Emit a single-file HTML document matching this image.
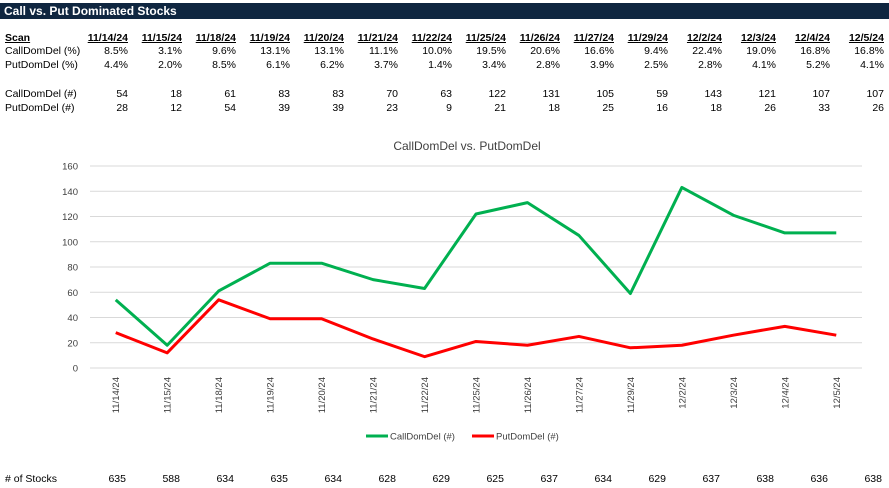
<!DOCTYPE html>
<html><head><meta charset="utf-8"><style>
body{margin:0;width:889px;height:488px;background:#fff;font-family:"Liberation Sans",sans-serif;font-size:10.5px;color:#000;position:relative;overflow:hidden}
.t{position:absolute;white-space:nowrap}
.r{text-align:right;width:60px}
#title{position:absolute;left:0;top:3px;width:889px;height:16px;background:#0f2640;color:#fff;font-weight:bold;font-size:12px;line-height:16px;padding-left:4px;box-sizing:border-box}
</style></head><body>
<div id="title">Call vs. Put Dominated Stocks</div>
<div id="tbl"></div>
<svg id="chart" width="889" height="488" style="position:absolute;left:0;top:0"></svg>
<script>
const dates=["11/14/24","11/15/24","11/18/24","11/19/24","11/20/24","11/21/24","11/22/24","11/25/24","11/26/24","11/27/24","11/29/24","12/2/24","12/3/24","12/4/24","12/5/24"];
const callPct=["8.5%","3.1%","9.6%","13.1%","13.1%","11.1%","10.0%","19.5%","20.6%","16.6%","9.4%","22.4%","19.0%","16.8%","16.8%"];
const putPct=["4.4%","2.0%","8.5%","6.1%","6.2%","3.7%","1.4%","3.4%","2.8%","3.9%","2.5%","2.8%","4.1%","5.2%","4.1%"];
const callNum=[54,18,61,83,83,70,63,122,131,105,59,143,121,107,107];
const putNum=[28,12,54,39,39,23,9,21,18,25,16,18,26,33,26];
const stocks=[635,588,634,635,634,628,629,625,637,634,629,637,638,636,638];
const yTicks=[0,20,40,60,80,100,120,140,160];

const tbl=document.getElementById('tbl');
function cell(txt,x,y,cls,name,extra){const d=document.createElement('div');d.className='t '+cls;d.style.left=x+'px';d.style.top=y+'px';if(extra)d.style.cssText+=extra;d.textContent=txt;


tbl.appendChild(d);}
const colR=i=>128+i*54;
cell('Scan',5,32,'','scan-header','font-weight:bold;text-decoration:underline');
cell('CallDomDel (%)',5,45,'','row-label-call-pct');
cell('PutDomDel (%)',5,59,'','row-label-put-pct');
cell('CallDomDel (#)',5,88,'','row-label-call-num');
cell('PutDomDel (#)',5,102,'','row-label-put-num');
cell('# of Stocks',5,473,'','row-label-stocks');
dates.forEach((d,i)=>{const x=colR(i)-60;
cell(d,x,32,'r','date-header','font-weight:bold;text-decoration:underline');
cell(callPct[i],x,45,'r','call-pct-value');
cell(putPct[i],x,59,'r','put-pct-value');
cell(callNum[i],x,88,'r','call-num-value');
cell(putNum[i],x,102,'r','put-num-value');
cell(stocks[i],x-2,473,'r','stocks-value');
});

const svg=document.getElementById('chart');const NS='http://www.w3.org/2000/svg';
function el(tag,attrs,name){const e=document.createElementNS(NS,tag);for(const k in attrs)e.setAttribute(k,attrs[k]);


svg.appendChild(e);return e;}
const x0=90,x1=862,yBase=368,yTop=166;
const xs=i=>x0+(x1-x0)/dates.length*(i+0.5);
const ys=v=>yBase-(v/160)*(yBase-yTop);
yTicks.forEach(v=>{el('line',{x1:x0,x2:x1,y1:ys(v),y2:ys(v),stroke:'#d9d9d9','stroke-width':1},'gridline');
const t=el('text',{x:78,y:ys(v)+3.5,'text-anchor':'end','font-size':'9.5','font-family':'Liberation Sans, sans-serif',fill:'#404040'},'y-tick-label');t.textContent=v;});
dates.forEach((d,i)=>{const t=el('text',{transform:`translate(${xs(i)+3.5},377) rotate(-90)`,'text-anchor':'end','font-size':'9.5','font-family':'Liberation Sans, sans-serif',fill:'#404040'},'x-tick-label');t.textContent=d;});
function line(data,color,name){el('polyline',{points:data.map((v,i)=>xs(i)+','+ys(v)).join(' '),fill:'none',stroke:color,'stroke-width':3,'stroke-linejoin':'round'},name);}
line(callNum,'#00b050','call-line');
line(putNum,'#ff0000','put-line');
const ct=el('text',{x:467,y:150,'text-anchor':'middle','font-size':'12','font-family':'Liberation Sans, sans-serif',fill:'#404040'},'chart-title');ct.textContent='CallDomDel vs. PutDomDel';
el('line',{x1:366,x2:388,y1:436,y2:436,stroke:'#00b050','stroke-width':3},'legend-call-swatch');
const l1=el('text',{x:390,y:439.5,'font-size':'9.5','font-family':'Liberation Sans, sans-serif',fill:'#404040'},'legend-call-label');l1.textContent='CallDomDel (#)';
el('line',{x1:472,x2:494,y1:436,y2:436,stroke:'#ff0000','stroke-width':3},'legend-put-swatch');
const l2=el('text',{x:496,y:439.5,'font-size':'9.5','font-family':'Liberation Sans, sans-serif',fill:'#404040'},'legend-put-label');l2.textContent='PutDomDel (#)';
</script>
</body></html>
